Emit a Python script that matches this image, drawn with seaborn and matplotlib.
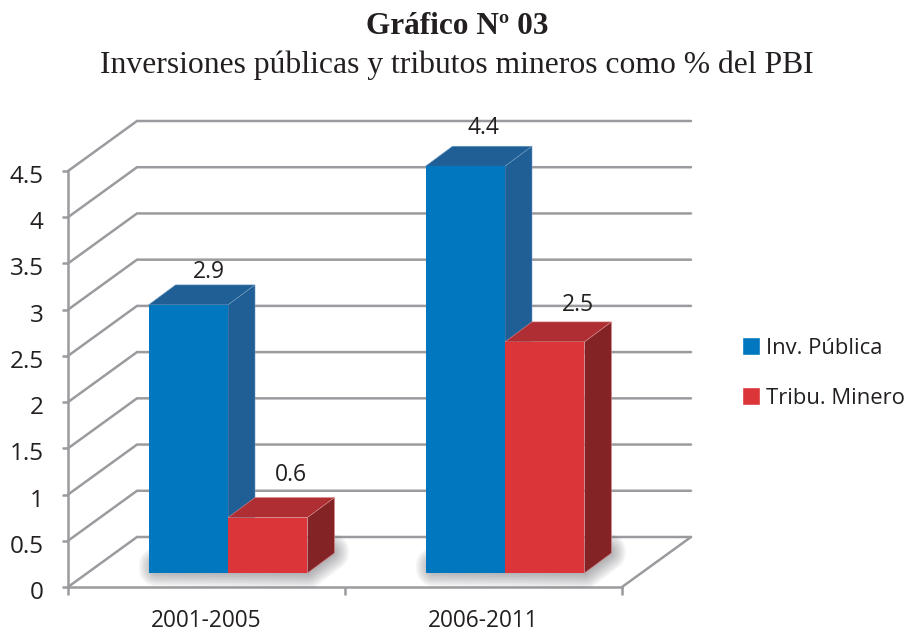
import pandas as pd
import matplotlib
matplotlib.use("Agg")
import matplotlib.pyplot as plt
from matplotlib.patches import Polygon
from matplotlib.transforms import Affine2D
import seaborn as sns

# Values
periods = ["2001-2005", "2006-2011"]
inv_publica = [2.9, 4.4]
tribu_minero = [0.6, 2.5]
yticks = [0, 0.5, 1, 1.5, 2, 2.5, 3, 3.5, 4, 4.5]
ytick_labels = ["0", "0.5", "1", "1.5", "2", "2.5", "3", "3.5", "4", "4.5"]

W, H = 907, 634
GRID = "#9b9b9f"
TEXT = "#231f20"
LABEL_FONT = "Open Sans"
FRONT = {"Inv. Pública": "#0077be", "Tribu. Minero": "#db3539"}
TOP = {"Inv. Pública": "#1f5f96", "Tribu. Minero": "#af2e33"}
SIDE = {"Inv. Pública": "#1f5f96", "Tribu. Minero": "#842326"}
# pixel nudges of the value labels, per series and period
LABEL_NUDGE = {"Inv. Pública": [(-6, 33), (-9, 38)], "Tribu. Minero": [(-4, 43), (6, 37)]}

df = pd.DataFrame({
    "periodo": periods * 2,
    "valor": inv_publica + tribu_minero,
    "serie": ["Inv. Pública"] * 2 + ["Tribu. Minero"] * 2,
})

sns.set_theme(style="white")
plt.rcParams["font.family"] = LABEL_FONT

fig = plt.figure(figsize=(W / 100, H / 100), dpi=100)

# Both axes have the same scale, the bars sit further into the floor
px_x, px_y = 554 / 2, 416 / 4.5
ax = fig.add_axes([68 / W, (H - 587) / H, 554 / W, 416 / H])
ax2 = fig.add_axes([89.5 / W, (H - 573) / H, 554 / W, 416 / H])
ax2.patch.set_alpha(0)

# Walls and floor
ax.set_xlim(-0.5, 1.5)
ax.set_ylim(0, 4.5)
wall_dx, wall_dy = 69 / px_x, 50 / px_y
for v in yticks:
    ax.plot([-0.5, -0.5 + wall_dx, 1.5 + wall_dx], [v, v + wall_dy, v + wall_dy],
            color=GRID, lw=1.8, clip_on=False, solid_joinstyle="miter", zorder=1)
ax.plot([1.5, 1.5 + wall_dx], [0, wall_dy], color=GRID, lw=1.8, clip_on=False, zorder=1)

sns.despine(ax=ax, top=True, right=True)
for side in ["left", "bottom"]:
    ax.spines[side].set_color(GRID)
    ax.spines[side].set_linewidth(1.8)
ax.set_yticks(yticks, ytick_labels, fontsize=17.5, color=TEXT)
ax.set_xticks([-0.5, 0.5, 1.5], ["", "", ""])
ax.set_xticks([0, 1], periods, minor=True, fontsize=16.3, color=TEXT)
ax.tick_params(axis="y", length=4.5, width=1.8, color=GRID, left=True, pad=13)
ax.tick_params(axis="x", which="major", length=6, width=1.8, color=GRID, bottom=True)
ax.tick_params(axis="x", which="minor", length=0, pad=16)
for lab in ax.get_yticklabels():
    lab.set_transform(lab.get_transform() + Affine2D().translate(0, -3))

# Bars
sns.barplot(data=df, x="periodo", y="valor", hue="serie", palette=FRONT,
            width=0.574, gap=0, saturation=1, ax=ax2)
ax2.set_xlim(-0.5, 1.5)
ax2.set_ylim(0, 4.5)
ax2.set_xlabel("")
ax2.set_ylabel("")
ax2.set_xticks([])
ax2.set_yticks([])
for s in ax2.spines.values():
    s.set_visible(False)

bar_dx, bar_dy = 27 / px_x, 20 / px_y
names = list(FRONT)
z = 3
for name, cont in zip(names, ax2.containers):
    for i, bar in enumerate(cont):
        x0, w, h = bar.get_x(), bar.get_width(), bar.get_height()
        x1 = x0 + w
        bar.set_edgecolor("none")
        bar.set_zorder(z + 1)
        ec = "#d98a8c" if name != names[0] else "#6f9cc2"
        ax2.add_patch(Polygon([(x0, h), (x1, h), (x1 + bar_dx, h + bar_dy), (x0 + bar_dx, h + bar_dy)],
                              fc=TOP[name], ec=ec, lw=0.4, zorder=z, clip_on=False))
        ax2.add_patch(Polygon([(x1, 0), (x1, h), (x1 + bar_dx, h + bar_dy), (x1 + bar_dx, bar_dy)],
                              fc=SIDE[name], ec=ec, lw=0.4, zorder=z, clip_on=False))
        nx, ny = LABEL_NUDGE[name][i]
        ax2.text(x0 + w / 2 + bar_dx + nx / px_x, h + ny / px_y, f"{h:g}", ha="center", va="center",
                 fontsize=16.5, color=TEXT, zorder=8, clip_on=False)
    z += 2

# Soft shadow along the floor, in front of and to the right of every pair of bars
first, second = ax2.containers
for b1, b2 in zip(first, second):
    x0, x1 = b1.get_x() + 8 / px_x, b2.get_x() + b2.get_width()
    for stroke in range(2, 38, 3):
        ax2.add_patch(Polygon([(x0, 4 / px_y), (x1, 2 / px_y), (x1 + bar_dx - 3 / px_x, bar_dy),
                               (x1 + bar_dx - 3 / px_x, bar_dy + 2 / px_y), (x0, 8 / px_y)],
                              fc="none", ec="#3c3c44", lw=stroke * 0.72, alpha=0.045,
                              joinstyle="round", zorder=2, clip_on=False))

# Legend
handles, labels = ax2.get_legend_handles_labels()
ax2.legend(handles, labels, loc="center left", bbox_to_anchor=(722 / W, (H - 373) / H),
           bbox_transform=fig.transFigure, frameon=False, fontsize=15.8, labelcolor=TEXT,
           handlelength=0.85, handleheight=0.85, handletextpad=0.25, labelspacing=1.32)

# Title
fig.text(457 / W, (H - 26) / H, "Gráfico Nº 03", ha="center", va="center", fontsize=22.5,
         fontweight="bold", family="Liberation Serif", color=TEXT)
fig.text(457 / W, (H - 65) / H, "Inversiones públicas y tributos mineros como % del PBI",
         ha="center", va="center", fontsize=22.75, family="Liberation Serif", color=TEXT)

fig.savefig("out.png", dpi=100, facecolor="white")
